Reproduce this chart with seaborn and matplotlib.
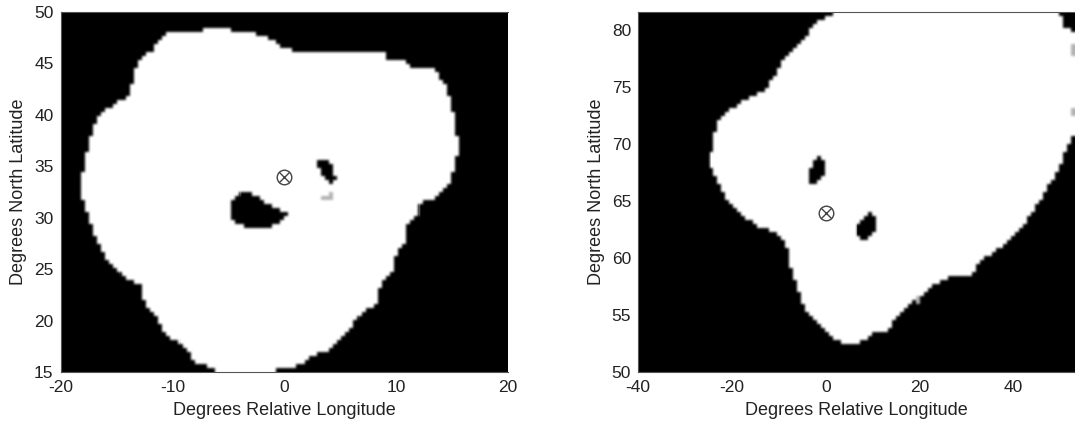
import numpy as np
import pandas as pd
import matplotlib
matplotlib.use("Agg")
import matplotlib.pyplot as plt
from matplotlib.path import Path
import seaborn as sns

# outlines, (lon, lat)
left_outline = [(-10.6, 47.9), (-8.5, 48.1), (-5.8, 48.4), (-3.1, 48.0), (-1.3, 47.4), (-0.1, 46.5),
                (1.7, 46.0), (3.9, 46.3), (8.1, 46.0), (9.1, 45.9), (9.4, 45.1), (10.6, 45.4),
                (11.5, 44.5), (13.4, 44.4), (14.3, 43.0), (15.0, 41.1), (15.3, 38.1), (15.8, 37.3),
                (15.3, 35.2), (14.9, 33.6), (13.5, 32.0), (12.3, 31.5), (11.9, 30.3), (10.9, 29.0),
                (11.1, 27.9), (10.0, 26.4), (9.6, 24.7), (8.5, 23.2), (8.4, 21.9), (6.6, 20.3),
                (5.7, 19.0), (4.3, 17.3), (2.6, 16.7), (1.3, 15.6), (-0.4, 15.2), (-3.1, 15.1),
                (-5.8, 15.1), (-7.9, 16.0), (-9.4, 17.8), (-10.9, 19.0), (-11.2, 20.1), (-12.6, 21.9),
                (-12.9, 23.4), (-14.3, 24.3), (-16.1, 26.4), (-17.4, 29.5), (-18.2, 32.6), (-17.9, 35.5),
                (-17.4, 37.5), (-17.0, 39.1), (-16.4, 40.1), (-13.8, 42.0), (-13.2, 45.1), (-11.8, 46.3)]
left_holes = [[(-3.2, 32.8), (-4.8, 31.6), (-4.8, 29.9), (-3.1, 28.9), (-1.6, 29.0), (-0.1, 29.7),
               (0.4, 30.3), (-1.3, 31.3), (-2.5, 32.0)],
              [(2.8, 35.7), (3.9, 35.7), (4.3, 35.2), (4.5, 33.9), (4.8, 33.8), (4.3, 33.3),
               (3.7, 33.6), (3.2, 34.6), (2.8, 35.1)]]
left_specks = [[(3.2, 31.9), (4.4, 32.5), (4.4, 32.0), (3.5, 31.6)]]

right_outline = [(2.8, 82.5), (2.8, 81.8), (-2.1, 80.7), (-5.0, 79.1), (-9.2, 77.2), (-12.7, 74.8),
                 (-17.7, 73.7), (-21.9, 72.6), (-23.4, 71.6), (-23.7, 70.1), (-24.9, 68.6), (-22.6, 66.3),
                 (-19.8, 64.4), (-17.0, 63.5), (-13.4, 62.6), (-10.6, 62.2), (-7.8, 60.8), (-7.8, 59.5),
                 (-6.4, 57.7), (-4.6, 55.7), (-1.4, 54.2), (2.1, 52.7), (6.4, 52.4), (9.9, 53.3),
                 (13.4, 53.7), (15.6, 55.2), (19.1, 56.3), (21.9, 57.3), (26.2, 58.3), (31.1, 58.6),
                 (33.3, 59.9), (37.5, 61.0), (41.4, 62.4), (44.9, 64.5), (48.8, 67.2), (51.7, 69.8),
                 (53.1, 71.3), (55.0, 71.3), (55.0, 79.6), (53.1, 79.6), (51.0, 80.3), (49.5, 81.8),
                 (49.5, 82.5)]
right_holes = [[(-1.4, 69.1), (0.1, 68.2), (-0.4, 67.2), (-2.1, 66.6), (-3.5, 66.4), (-3.3, 67.8),
                (-2.5, 68.5)],
               [(9.2, 64.1), (10.4, 63.6), (10.4, 62.3), (9.2, 61.6), (7.8, 61.7), (6.2, 62.4),
                (7.4, 63.3)]]
right_specks = [[(18.9, 55.8), (20.0, 56.9), (20.3, 56.4), (19.3, 55.5)],
                [(52.2, 77.6), (53.0, 77.6), (53.0, 79.0), (52.2, 78.8)],
                [(52.6, 72.4), (53.1, 72.4), (53.1, 73.2), (52.7, 73.2)]]

left_lon_range = (-20, 20)
left_lat_range = (15, 50)
right_lon_range = (-40, 53.1)
right_lat_range = (50, 81.6)

left_xticks = [-20, -10, 0, 10, 20]
left_yticks = [15, 20, 25, 30, 35, 40, 45, 50]
right_xticks = [-40, -20, 0, 20, 40]
right_yticks = [50, 55, 60, 65, 70, 75, 80]

left_site = (0, 34)
right_site = (0, 64)

N_COLS, N_ROWS, UP = 110, 90, 4


def smooth(a):
    # light blur so the blocks get soft grey edges like the scan
    k = np.array([1, 2, 3, 2, 1]) / 9
    a = np.pad(a, 2, mode="edge")
    a = np.apply_along_axis(lambda r: np.convolve(r, k, mode="same"), 0, a)
    a = np.apply_along_axis(lambda r: np.convolve(r, k, mode="same"), 1, a)
    return a[2:-2, 2:-2]


def make_grid(outline, holes, specks, lon_range, lat_range):
    lon_w = (lon_range[1] - lon_range[0]) / N_COLS
    lat_w = (lat_range[1] - lat_range[0]) / N_ROWS
    lons = lon_range[0] + lon_w * (np.arange(N_COLS) + 0.5)
    lats = lat_range[1] - lat_w * (np.arange(N_ROWS) + 0.5)
    xx, yy = np.meshgrid(lons, lats)
    pts = np.column_stack([xx.ravel(), yy.ravel()])

    grid = Path(outline).contains_points(pts).astype(float)
    for h in holes:
        grid[Path(h).contains_points(pts)] = 0.0
    for s in specks:
        grid[Path(s).contains_points(pts)] = 0.7
    grid = grid.reshape(N_ROWS, N_COLS)
    grid = np.kron(grid, np.ones((UP, UP)))
    return pd.DataFrame(smooth(grid))


def draw_panel(ax, grid, lon_range, lat_range, xticks, yticks, site):
    sns.heatmap(grid, ax=ax, cmap="gray", vmin=0, vmax=1, cbar=False,
                xticklabels=False, yticklabels=False, square=False)
    nrows, ncols = grid.shape

    def to_x(lon):
        return (lon - lon_range[0]) / (lon_range[1] - lon_range[0]) * ncols

    def to_y(lat):
        return (lat_range[1] - lat) / (lat_range[1] - lat_range[0]) * nrows

    ax.set_xticks([to_x(v) for v in xticks])
    ax.set_xticklabels([str(v) for v in xticks], rotation=0, fontsize=12.5)
    ax.set_yticks([to_y(v) for v in yticks])
    ax.set_yticklabels([str(v) for v in yticks], rotation=0, fontsize=12.5)
    ax.tick_params(length=0, colors="#222222")
    ax.tick_params(axis="x", pad=6)
    ax.tick_params(axis="y", pad=5)
    ax.set_xlabel("Degrees Relative Longitude", fontsize=13, color="#222222", labelpad=5)
    ax.set_ylabel("Degrees North Latitude", fontsize=13, color="#222222", labelpad=5)

    # site marker: circled x
    ax.scatter(to_x(site[0]), to_y(site[1]), s=110, marker="o", facecolor="white",
               edgecolor="#444444", linewidth=1.0, zorder=3)
    ax.scatter(to_x(site[0]), to_y(site[1]), s=58, marker="x", color="#444444",
               linewidth=1.0, zorder=4)
    for side in ["top", "left", "bottom"]:
        ax.spines[side].set_visible(True)
        ax.spines[side].set_color("#555555")
        ax.spines[side].set_linewidth(0.8)


sns.set_style("white")
plt.rcParams["font.family"] = ["Liberation Sans", "DejaVu Sans"]

fig = plt.figure(figsize=(10.75, 4.25), dpi=100)
ax1 = fig.add_axes([60.5 / 1075, 1 - 372 / 425, 447.5 / 1075, 360 / 425])
ax2 = fig.add_axes([638 / 1075, 1 - 372 / 425, 437 / 1075, 360 / 425])

grid1 = make_grid(left_outline, left_holes, left_specks, left_lon_range, left_lat_range)
grid2 = make_grid(right_outline, right_holes, right_specks, right_lon_range, right_lat_range)

draw_panel(ax1, grid1, left_lon_range, left_lat_range, left_xticks, left_yticks, left_site)
draw_panel(ax2, grid2, right_lon_range, right_lat_range, right_xticks, right_yticks, right_site)

fig.savefig("out.png", dpi=100)
